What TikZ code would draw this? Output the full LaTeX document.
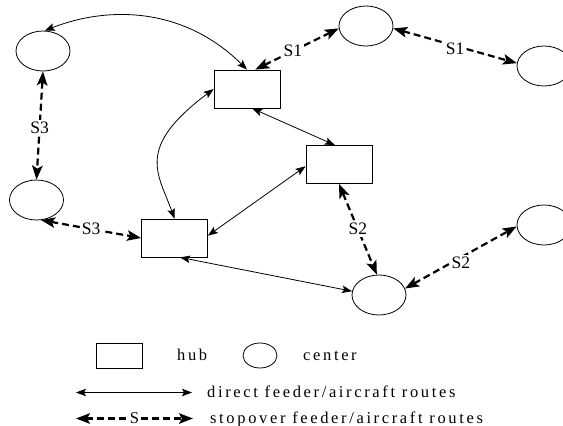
\documentclass[tikz,border=0pt]{standalone}
\usepackage{fontspec}
\setmainfont{Liberation Serif}
\newfontfamily\spacedfont[LetterSpace=16]{Liberation Serif}
\usetikzlibrary{shapes.geometric,arrows.meta}
\begin{document}
\begin{tikzpicture}[x=1pt,y=-1pt,
  hubbox/.style={draw,line width=0.8pt,minimum width=66pt,minimum height=38pt,inner sep=0pt},
  ctr/.style={draw,ellipse,line width=0.8pt,minimum width=54pt,minimum height=40pt,inner sep=0pt},
  smalltip/.tip={Stealth[length=10pt,width=7.5pt,inset=2pt]},
  bigtip/.tip={Stealth[length=14pt,width=10.5pt,inset=3pt]},
  direct/.style={line width=0.8pt,smalltip-smalltip},
  stop/.style={line width=2.2pt,dash pattern=on 7pt off 4pt,bigtip-bigtip},
  lbl/.style={fill=white,inner sep=1.5pt,font=\fontsize{17.5}{19}\selectfont},
  legtext/.style={anchor=base west,inner sep=0pt,font=\spacedfont\fontsize{16.5}{18}\selectfont}
]
\useasboundingbox (0,0) rectangle (563,426);

% hubs
\node[hubbox] (r1) at (247,89) {};
\node[hubbox] (r2) at (174.5,238) {};
\node[hubbox] (r3) at (339,164.5) {};

% centers
\node[ctr] (e1) at (43,51) {};
\node[ctr] (e2) at (36.5,200) {};
\node[ctr] (e3) at (366,26) {};
\node[ctr] (e4) at (544,66) {};
\node[ctr] (e5) at (544,225) {};
\node[ctr] (e6) at (379,295) {};

% direct routes
\draw[direct] (e1.85) .. controls (110,5) and (185,8) .. (r1.north);
\draw[direct] (r1.west) .. controls (135,148) and (158,173) .. (r2.north);
\draw[direct] (r1.285) -- (r3.102);
\draw[direct] (r3.183) -- (r2.4);
\draw[direct] (r2.286) -- (e6.172);

% stopover routes
\draw[stop] (e1.south) -- node[lbl,pos=0.52]{S3} (e2.north);
\draw[stop] (e2.283) -- node[lbl,pos=0.5]{S3} (r2.west);
\draw[stop] (r1.67) -- node[lbl,pos=0.45]{S1} (e3.185);
\draw[stop] (e3.355) -- node[lbl,pos=0.5,yshift=-3pt]{S1} (e4.174);
\draw[stop] (r3.south) -- node[lbl,pos=0.5]{S2} (e6.96);
\draw[stop] (e6.14) -- node[lbl,pos=0.5,yshift=-5pt]{S2} (e5.183);

% legend
\node[hubbox,minimum width=46pt,minimum height=25pt] (lr) at (119,355.5) {};
\node[legtext] (lhub) at (177,360.5) {hub};
\node[ctr,minimum width=34pt,minimum height=25pt] (le) at (260,355.5) {};
\node[legtext] (lcenter) at (303,360.5) {center};
\coordinate (la1) at (76,392.5);
\coordinate (la2) at (192,392.5);
\draw[direct] (la1) -- (la2);
\node[legtext] (ldirect) at (207,397.5) {direct feeder/aircraft routes};
\coordinate (lb1) at (76,418.5);
\coordinate (lb2) at (193,418.5);
\draw[stop] (lb1) -- node[fill=white,inner xsep=1.5pt,inner ysep=0pt,font=\fontsize{16.5}{17}\selectfont,pos=0.5]{S} (lb2);
\node[legtext] (lstop) at (210,423) {stopover feeder/aircraft routes};
\end{tikzpicture}
\end{document}
